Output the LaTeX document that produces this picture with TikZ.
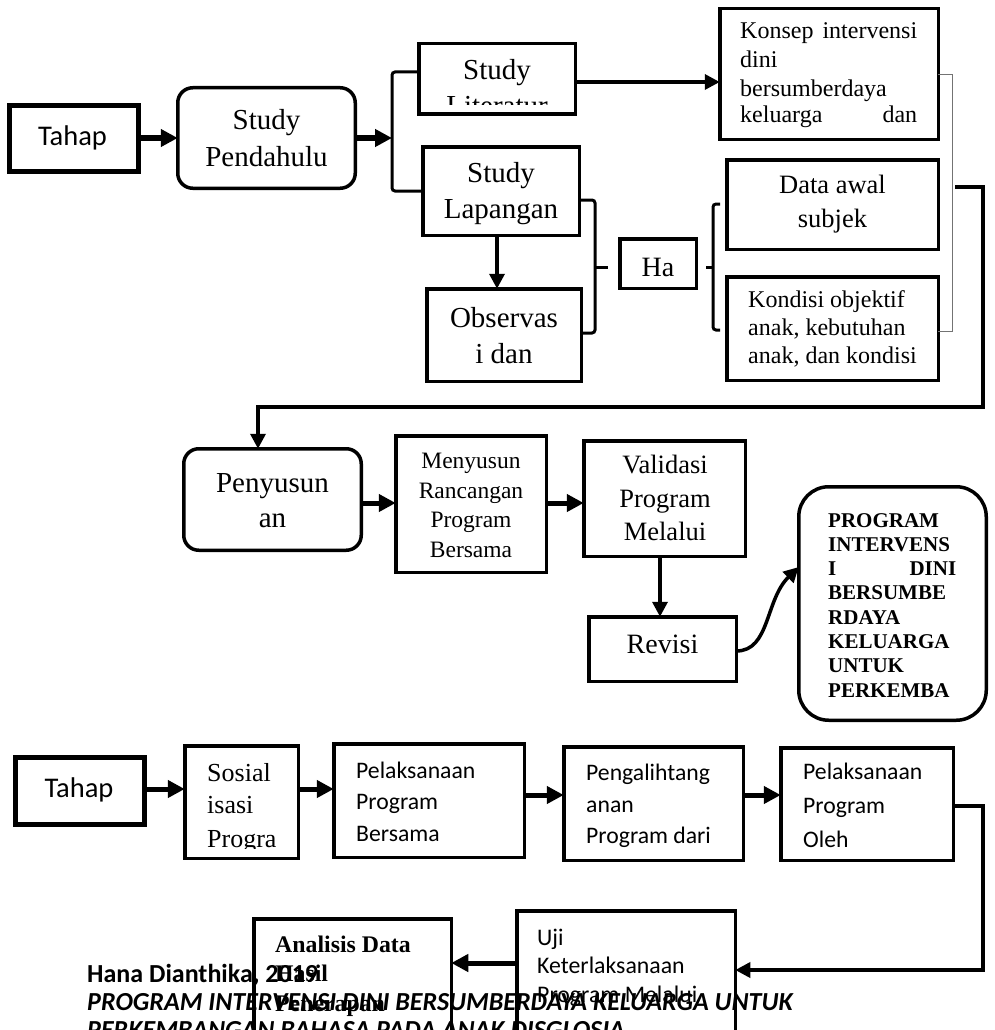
\documentclass[tikz,border=0pt]{standalone}
\usepackage{fontspec}
\setmainfont{Liberation Serif}
\newfontfamily\calibri{Carlito}
\usetikzlibrary{arrows.meta}

\tikzset{
  every picture/.style={x=1pt, y=-1pt},
  plainbox/.style={draw, line width=#1, inner sep=0pt, outer sep=0pt},
  plainbox/.default=3.5pt,
  tahapbox/.style={plainbox=5pt},
  roundbox/.style={plainbox, rounded corners=#1},
  roundbox/.default=15pt,
  bracket/.style={line width=3pt, rounded corners=3pt},
  thinbracket/.style={line width=1pt, draw=black!55},
  arrow/.style={line width=3.5pt, -{Triangle[length=15pt, width=15pt]}},
  fatarrow/.style={line width=5pt, -{Triangle[length=17pt, width=17pt]}},
  txt/.style={inner sep=0pt, anchor=base, font=\fontsize{#1}{#1}\selectfont},
  ltxt/.style={txt=#1, anchor=base west},
  btxt/.style={ltxt=#1, font=\bfseries\fontsize{#1}{#1}\selectfont},
  sanstxt/.style={inner sep=0pt, anchor=base west, font=\calibri\fontsize{#1}{#1}\selectfont},
  foot/.style={inner sep=0pt, anchor=base west, font=\calibri\bfseries\fontsize{26}{26}\selectfont},
}

\begin{document}
\begin{tikzpicture}
  \useasboundingbox (0,0) rectangle (994,1030);
  \clip (0,0) rectangle (994,1030);

  % tahap 1: study pendahuluan
  \node[tahapbox, minimum width=129pt, minimum height=66pt] (tahapA) at (74,138.5) {};
  \node[roundbox, minimum width=177.5pt, minimum height=100.5pt] (pendahulu) at (266.5,138) {};
  \node[plainbox, minimum width=156.5pt, minimum height=70.5pt] (literatur) at (497,79) {};
  \node[plainbox, minimum width=156.5pt, minimum height=88.5pt] (lapangan) at (501,191) {};
  \node[plainbox, minimum width=154.5pt, minimum height=92.5pt] (observasi) at (504,335) {};
  \node[plainbox, minimum width=76.5pt, minimum height=49.5pt] (ha) at (658,263.5) {};
  \node[plainbox, minimum width=218.5pt, minimum height=130.5pt] (konsep) at (829,74) {};
  \node[plainbox, minimum width=211.5pt, minimum height=89.5pt] (dataawal) at (832.5,204.5) {};
  \node[plainbox, minimum width=211.5pt, minimum height=103.5pt] (kondisi) at (832.5,328.5) {};

  \node[sanstxt=28.5, anchor=base] (tahapA-t) at (72.5,146) {Tahap};
  \foreach \t/\y [count=\i] in {Study/130, Pendahulu/166} \node[txt=29] (pendahulu-\i) at (266.5,\y) {\t};
  \begin{scope}
    \clip (419,44) rectangle (575,105);
    \foreach \t/\y [count=\i] in {Study/80, Literatur/116} \node[txt=29] (literatur-\i) at (497,\y) {\t};
  \end{scope}
  \foreach \t/\y [count=\i] in {Study/182, Lapangan/218} \node[txt=29] (lapangan-\i) at (501,\y) {\t};
  \foreach \t/\y [count=\i] in {Observas/327, {i dan}/363} \node[txt=29] (observasi-\i) at (504,\y) {\t};
  \node[txt=28] (ha-t) at (658,276) {Ha};
  \foreach \t/\y [count=\i] in {{\makebox[177pt][s]{Konsep intervensi}}/39, dini/68, bersumberdaya/97,
                                {\makebox[177pt][s]{keluarga dan}}/123}
    \node[ltxt=24] (konsep-\i) at (740,\y) {\t};
  \foreach \t/\y [count=\i] in {{Data awal}/193, subjek/227} \node[txt=26.5] (dataawal-\i) at (832.5,\y) {\t};
  \foreach \t/\y [count=\i] in {{Kondisi objektif}/307, {anak, kebutuhan}/335, {anak, dan kondisi}/363}
    \node[ltxt=24] (kondisi-\i) at (748,\y) {\t};

  \coordinate (forkA) at (392,138);
  \coordinate (braceB) at (595,267);
  \coordinate (tickB) at (608,267);
  \coordinate (braceC) at (713,267);
  \coordinate (tickC) at (706,267);
  \coordinate (braceCtop) at (720,204);
  \coordinate (braceCbot) at (720,330);
  \coordinate (joinR) at (955,187);
  \draw[fatarrow] (tahapA.east |- 0,138) -- (pendahulu.west |- 0,138);
  \draw[fatarrow] (pendahulu.east |- forkA) -- (forkA);
  \draw[bracket] (literatur.west |- 0,72) -| (forkA) |- (lapangan.west);
  \draw[arrow] (literatur.east |- 0,82) -- (konsep.west |- 0,82);
  \draw[arrow] (lapangan.south -| 497,0) -- (observasi.north -| 497,0);
  \draw[bracket] (lapangan.east |- 0,200) -| (braceB) |- (observasi.east |- 0,333);
  \draw[bracket] (braceB) -- (tickB);
  \draw[bracket] (braceCtop) -| (braceC) |- (braceCbot);
  \draw[bracket] (tickC) -- (braceC);
  \draw[thinbracket] (konsep.east |- 0,75) -- (952,75) -- (952,331) -- (kondisi.east |- 0,331);

  % tahap 2: penyusunan
  \node[roundbox, minimum width=177.5pt, minimum height=101.5pt] (penyusunan) at (272.5,499.5) {};
  \node[plainbox, minimum width=150.5pt, minimum height=136.5pt] (menyusun) at (471,504) {};
  \node[plainbox, minimum width=161.5pt, minimum height=115.5pt] (validasi) at (664.5,498.5) {};
  \node[plainbox, minimum width=147.5pt, minimum height=64.5pt] (revisi) at (662.5,649) {};
  \node[roundbox=30pt, minimum width=187.5pt, minimum height=233.5pt] (hasilprogram) at (892.5,603.5) {};

  \foreach \t/\y [count=\i] in {Penyusun/492, an/527} \node[txt=29] (penyusunan-\i) at (272.5,\y) {\t};
  \foreach \t/\y [count=\i] in {Menyusun/468, Rancangan/498, Program/527, Bersama/557}
    \node[txt=23.5] (menyusun-\i) at (471,\y) {\t};
  \foreach \t/\y [count=\i] in {Validasi/473, Program/507, Melalui/540} \node[txt=26.5] (validasi-\i) at (665,\y) {\t};
  \node[txt=28] (revisi-t) at (662.5,653) {Revisi};
  \foreach \t [count=\i] in {PROGRAM, INTERVENS, {\makebox[128pt][s]{I DINI}}, BERSUMBE, RDAYA, KELUARGA, UNTUK, PERKEMBA}
    \node[btxt=21] (hasilprogram-\i) at (828,{502.7+24.3*\i}) {\t};

  \draw[arrow] (joinR) -- (983,187) |- (258,407) -- (penyusunan.north -| 258,0);
  \draw[fatarrow] (penyusunan.east |- 0,503) -- (menyusun.west |- 0,503);
  \draw[fatarrow] (menyusun.east |- 0,503) -- (validasi.west |- 0,503);
  \draw[arrow] (validasi.south -| 660,0) -- (revisi.north -| 660,0);
  \draw[arrow] (revisi.east |- 0,651) .. controls (770,651) and (765,600) .. (hasilprogram.west |- 0,567);

  % tahap 3: penerapan
  \node[tahapbox, minimum width=129pt, minimum height=67pt] (tahapB) at (80,791) {};
  \node[plainbox, minimum width=113.5pt, minimum height=112.5pt] (sosial) at (241.5,802) {};
  \node[plainbox, minimum width=190.5pt, minimum height=113.5pt] (pelaksanaanA) at (429,800.5) {};
  \node[plainbox, minimum width=179.5pt, minimum height=113.5pt] (pengalihan) at (653.5,803.5) {};
  \node[plainbox, minimum width=172.5pt, minimum height=112.5pt] (pelaksanaanB) at (867,804) {};
  \node[plainbox, minimum width=218.5pt, minimum height=190pt] (uji) at (626,1005.75) {};
  \node[plainbox, minimum width=197.5pt, minimum height=190pt] (analisis) at (352.5,1013.75) {};

  \node[sanstxt=28.5, anchor=base] (tahapB-t) at (79,797) {Tahap};
  \begin{scope}
    \clip (185,746) rectangle (298,848);
    \foreach \t/\y [count=\i] in {Sosial/781, isasi/813, Progra/847} \node[ltxt=26] (sosial-\i) at (207,\y) {\t};
  \end{scope}
  \foreach \t/\y [count=\i] in {Pelaksanaan/778, Program/809, Bersama/841}
    \node[sanstxt=23.7] (pelaksanaanA-\i) at (356,\y) {\t};
  \foreach \t/\y [count=\i] in {Pengalihtang/780, anan/812, {Program dari}/843}
    \node[sanstxt=23.7] (pengalihan-\i) at (586,\y) {\t};
  \foreach \t/\y [count=\i] in {Pelaksanaan/779, Program/813, Oleh/847}
    \node[sanstxt=23.7] (pelaksanaanB-\i) at (803,\y) {\t};
  \foreach \t/\y [count=\i] in {Uji/945, Keterlaksanaan/973, {Program Melalui}/1002}
    \node[sanstxt=23.8] (uji-\i) at (537,\y) {\t};
  \foreach \t/\y [count=\i] in {{Analisis Data}/952, Hasil/981, Penerapan/1011}
    \node[btxt=23.8] (analisis-\i) at (275,\y) {\t};

  \draw[fatarrow] (tahapB.east |- 0,789) -- (sosial.west |- 0,789);
  \draw[fatarrow] (sosial.east |- 0,789) -- (pelaksanaanA.west |- 0,789);
  \draw[fatarrow] (pelaksanaanA.east |- 0,795) -- (pengalihan.west |- 0,795);
  \draw[fatarrow] (pengalihan.east |- 0,795) -- (pelaksanaanB.west |- 0,795);
  \draw[arrow] (pelaksanaanB.east |- 0,806) -| (983,970) -- (uji.east |- 0,970);
  \draw[fatarrow] (uji.west |- 0,963) -- (analisis.east |- 0,963);

  % footer
  \node[foot] (footer-1) at (87,982) {Hana Dianthika, 2019};
  \node[foot] (footer-2) at (87,1010) {\itshape PROGRAM INTERVENSI DINI BERSUMBERDAYA KELUARGA UNTUK};
  \node[foot] (footer-3) at (87,1038) {\itshape PERKEMBANGAN BAHASA PADA ANAK DISGLOSIA};
\end{tikzpicture}
\end{document}
